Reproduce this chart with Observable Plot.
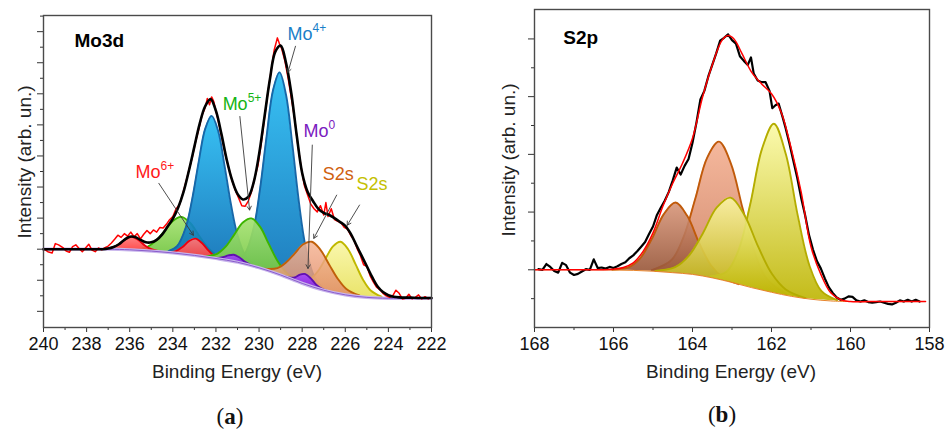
<!DOCTYPE html>
<html><head><meta charset="utf-8">
<script src="https://cdn.jsdelivr.net/npm/d3@7"></script>
<script src="https://cdn.jsdelivr.net/npm/@observablehq/plot@0.6"></script>
<style>
body{margin:0;background:#fff;width:951px;height:436px;overflow:hidden;font-family:"Liberation Sans",Arial,sans-serif;}
#wrap{position:relative;width:951px;height:436px;}
.panel{position:absolute;top:0;}
.ylab{position:absolute;transform:translate(-50%,-50%) rotate(-90deg);white-space:nowrap;font-size:19px;color:#222;}
.xlab{position:absolute;transform:translate(-50%,-50%);white-space:nowrap;font-size:19px;color:#222;}
.tag{position:absolute;transform:translate(-50%,-50%);font-family:"Liberation Serif","DejaVu Serif",serif;font-size:23px;color:#111;}
</style></head><body><div id="wrap"></div>
<script>
// ---------- Panel (a) Mo3d : [energy eV, intensity] ----------
const ticksA = [240,238,236,234,232,230,228,226,224,222];
const minorTicksA = [239,237,235,233,231,229,227,225,223];
const yMajorA = [-2,-1,0,1,2,3,4,5,6,7];
const yMinorA = [-1.5,-0.5,0.5,1.5,2.5,3.5,4.5,5.5,6.5,7.5];

const backgroundA = [[240,0],[237,0],[236,-0.02],[235,-0.06],[234,-0.12],[233,-0.2],[232,-0.3],[231,-0.42],[230,-0.6],[229,-0.83],[228,-1.1],[227,-1.32],[226,-1.47],[225,-1.55],[224,-1.58],[222,-1.58]];

// components: [energy, background, component top]
const mo6PeakA = [[237.2,0,0.01],[236.8,0,0.06],[236.5,-0.01,0.16],[236.2,-0.02,0.32],[235.9,-0.02,0.40],[235.6,-0.04,0.30],[235.3,-0.05,0.12],[235.0,-0.06,0.00],[234.6,-0.08,-0.07]];
const mo6PeakB = [[234.25,-0.11,-0.10],[233.85,-0.13,-0.06],[233.55,-0.16,0.07],[233.25,-0.18,0.26],[232.95,-0.21,0.34],[232.65,-0.24,0.20],[232.35,-0.27,-0.04],[232.05,-0.30,-0.23],[231.65,-0.34,-0.33]];
const mo5PeakA = [[235.7,-0.03,-0.01],[235.2,-0.05,0.07],[234.8,-0.07,0.26],[234.4,-0.10,0.57],[234.0,-0.12,0.91],[233.6,-0.15,1.04],[233.2,-0.18,0.85],[232.8,-0.22,0.45],[232.4,-0.26,0.07],[232.0,-0.30,-0.18],[231.5,-0.36,-0.34]];
const mo5PeakB = [[232.45,-0.26,-0.23],[231.95,-0.31,-0.15],[231.55,-0.35,0.08],[231.15,-0.40,0.47],[230.75,-0.47,0.86],[230.35,-0.54,0.99],[229.95,-0.61,0.72],[229.55,-0.70,0.17],[229.15,-0.80,-0.37],[228.75,-0.90,-0.74],[228.25,-1.03,-1.00]];
const mo4PeakA = [[234.2,-0.11,-0.06],[233.8,-0.14,0.10],[233.4,-0.17,0.70],[233.1,-0.19,1.62],[232.8,-0.22,2.81],[232.5,-0.25,3.87],[232.2,-0.28,4.29],[231.9,-0.31,3.81],[231.6,-0.35,2.68],[231.3,-0.38,1.43],[231.0,-0.42,0.45],[230.6,-0.49,-0.25],[230.2,-0.56,-0.51]];
const mo4PeakB = [[231.05,-0.41,-0.34],[230.65,-0.48,-0.13],[230.25,-0.56,0.68],[229.95,-0.61,1.96],[229.65,-0.68,3.63],[229.35,-0.75,5.12],[229.05,-0.82,5.69],[228.75,-0.90,4.97],[228.45,-0.98,3.33],[228.15,-1.06,1.51],[227.85,-1.13,0.11],[227.45,-1.22,-0.87],[227.05,-1.31,-1.24]];
const mo0PeakA = [[232.17,-0.28,-0.28],[231.92,-0.31,-0.29],[231.67,-0.34,-0.26],[231.42,-0.37,-0.20],[231.17,-0.40,-0.18],[230.92,-0.43,-0.26],[230.67,-0.48,-0.40],[230.42,-0.52,-0.50],[230.17,-0.57,-0.57]];
const mo0PeakB = [[228.85,-0.87,-0.87],[228.6,-0.94,-0.91],[228.35,-1.01,-0.91],[228.1,-1.07,-0.82],[227.85,-1.13,-0.80],[227.6,-1.19,-0.94],[227.35,-1.24,-1.14],[227.1,-1.30,-1.27],[226.85,-1.34,-1.34]];
const s2sOrange = [[229.75,-0.66,-0.63],[229.15,-0.80,-0.61],[228.75,-0.90,-0.43],[228.35,-1.01,-0.14],[227.95,-1.11,0.16],[227.55,-1.20,0.24],[227.15,-1.29,-0.02],[226.75,-1.36,-0.49],[226.35,-1.42,-0.95],[225.95,-1.47,-1.28],[225.35,-1.52,-1.49]];
const s2sYellow = [[228.12,-1.07,-1.03],[227.62,-1.18,-0.95],[227.27,-1.26,-0.71],[226.92,-1.33,-0.31],[226.57,-1.39,0.09],[226.22,-1.44,0.24],[225.87,-1.48,0.00],[225.52,-1.51,-0.49],[225.17,-1.54,-0.99],[224.82,-1.56,-1.33],[224.32,-1.57,-1.53]];

const envelopeA = [[240,0],[239,0],[238,0],[237.5,0],[237.25,0.0],[237.0,0.02],[236.75,0.07],[236.5,0.16],[236.25,0.3],[236.0,0.4],[235.75,0.39],[235.5,0.3],[235.25,0.22],[235.0,0.22],[234.75,0.3],[234.5,0.47],[234.25,0.72],[234.0,0.98],[233.75,1.34],[233.5,1.85],[233.25,2.54],[233.0,3.3],[232.75,4.05],[232.5,4.6],[232.25,4.83],[232.0,4.45],[231.75,3.72],[231.5,2.88],[231.25,2.22],[231.0,1.78],[230.75,1.6],[230.5,1.68],[230.25,2.15],[230.0,3.05],[229.75,4.25],[229.5,5.45],[229.25,6.35],[229.0,6.55],[228.75,6.0],[228.5,5.0],[228.25,3.65],[228.0,2.45],[227.75,1.85],[227.5,1.55],[227.25,1.3],[227.0,1.17],[226.75,1.1],[226.5,1.0],[226.25,0.88],[226.0,0.75],[225.75,0.5],[225.5,0.15],[225.25,-0.2],[225.0,-0.55],[224.75,-0.9],[224.5,-1.2],[224.25,-1.38],[224.0,-1.48],[223.75,-1.53],[223.5,-1.55],[223.0,-1.56],[222.5,-1.57],[222.0,-1.57]];

const measuredA = [[240.0,0.02],[239.8,-0.08],[239.6,-0.12],[239.45,0.18],[239.3,0.14],[239.1,0.05],[238.95,-0.06],[238.8,-0.1],[238.65,0.08],[238.5,0.14],[238.35,0.02],[238.2,-0.08],[238.05,0.04],[237.9,0.16],[237.75,-0.03],[237.6,-0.08],[237.45,0.04],[237.3,-0.02],[237.15,0.05],[237.0,0.1],[236.85,0.2],[236.7,0.32],[236.55,0.45],[236.4,0.38],[236.25,0.5],[236.1,0.42],[235.95,0.55],[235.8,0.4],[235.65,0.5],[235.5,0.33],[235.35,0.48],[235.2,0.6],[235.05,0.5],[234.9,0.62],[234.75,0.55],[234.6,0.7],[234.45,0.68],[234.3,0.8],[234.15,0.95],[234.0,1.05],[233.85,1.3],[233.7,1.42],[233.55,1.75],[233.4,2.15],[233.25,2.55],[233.1,2.95],[232.95,3.45],[232.8,3.85],[232.65,4.3],[232.5,4.55],[232.4,4.85],[232.3,4.65],[232.2,4.9],[232.1,4.75],[232.0,4.45],[231.85,4.0],[231.7,3.5],[231.55,3.0],[231.4,2.6],[231.25,2.2],[231.1,1.9],[230.95,1.65],[230.8,1.4],[230.65,1.38],[230.5,1.55],[230.35,1.85],[230.2,2.3],[230.05,2.7],[229.9,3.4],[229.75,4.2],[229.6,5.0],[229.45,5.7],[229.3,6.4],[229.15,6.8],[229.05,6.6],[228.95,6.45],[228.8,6.05],[228.65,5.5],[228.5,4.85],[228.35,4.2],[228.2,3.35],[228.05,2.65],[227.9,2.05],[227.75,1.75],[227.6,1.45],[227.45,1.3],[227.3,1.2],[227.15,1.4],[227.0,1.1],[226.9,1.5],[226.8,1.05],[226.65,1.3],[226.5,0.95],[226.35,0.9],[226.2,0.85],[226.05,0.7],[225.9,0.65],[225.75,0.45],[225.6,0.3],[225.45,0.02],[225.3,-0.2],[225.15,-0.5],[225.0,-0.55],[224.85,-0.85],[224.7,-1.05],[224.55,-1.22],[224.4,-1.3],[224.25,-1.42],[224.1,-1.5],[223.95,-1.55],[223.8,-1.5],[223.65,-1.32],[223.5,-1.42],[223.35,-1.6],[223.2,-1.58],[223.05,-1.45],[222.9,-1.6],[222.75,-1.55],[222.6,-1.47],[222.45,-1.6],[222.3,-1.53],[222.15,-1.6]];

// ---------- Panel (b) S2p ----------
const ticksB = [168,166,164,162,160,158];
const minorTicksB = [167,165,163,161,159];
const yMajorB = [0,1,2,3,4];
const yMinorB = [-0.5,0.5,1.5,2.5,3.5];

const backgroundB = [[168,0],[166.5,0],[166,-0.005],[165.5,-0.01],[165,-0.025],[164.5,-0.05],[164,-0.08],[163.5,-0.14],[163,-0.22],[162.5,-0.31],[162,-0.39],[161.5,-0.46],[161,-0.51],[160.5,-0.54],[160,-0.55],[158.1,-0.55]];
const brownPeak = [[166.03,0,0],[165.63,-0.01,0.04],[165.33,-0.015,0.195],[165.03,-0.025,0.535],[164.73,-0.04,0.96],[164.43,-0.055,1.165],[164.13,-0.07,0.93],[163.83,-0.10,0.46],[163.53,-0.135,0.075],[163.23,-0.18,-0.13],[162.83,-0.25,-0.25]];
const salmonPeak = [[165.03,-0.025,-0.005],[164.53,-0.05,0.17],[164.23,-0.07,0.56],[163.93,-0.09,1.23],[163.63,-0.12,1.94],[163.33,-0.17,2.22],[163.03,-0.215,1.845],[162.73,-0.26,1.06],[162.43,-0.32,0.31],[162.13,-0.37,-0.15],[161.63,-0.44,-0.42]];
const yellowPeak1 = [[164.94,-0.03,-0.02],[164.44,-0.055,0.045],[164.09,-0.075,0.245],[163.74,-0.11,0.63],[163.39,-0.155,1.075],[163.04,-0.21,1.25],[162.69,-0.275,0.955],[162.34,-0.335,0.405],[161.99,-0.39,-0.07],[161.64,-0.44,-0.34],[161.14,-0.50,-0.49]];
const yellowPeak2 = [[163.54,-0.135,-0.115],[163.14,-0.195,-0.035],[162.84,-0.25,0.33],[162.54,-0.30,1.13],[162.24,-0.355,2.095],[161.94,-0.40,2.53],[161.64,-0.44,2.01],[161.34,-0.475,0.955],[161.04,-0.505,0.075],[160.74,-0.525,-0.365],[160.34,-0.545,-0.525]];
const envelopeB = [[168,0],[167.5,0],[167,0],[166.5,0],[166.25,0.0],[166.0,0.01],[165.75,0.04],[165.5,0.12],[165.25,0.32],[165.0,0.64],[164.75,1.1],[164.5,1.5],[164.25,1.85],[164.0,2.28],[163.75,2.98],[163.5,3.55],[163.25,3.98],[163.1,4.06],[162.95,4.0],[162.75,3.75],[162.5,3.42],[162.25,3.22],[162.0,3.05],[161.75,2.72],[161.5,2.1],[161.25,1.35],[161.0,0.4],[160.75,-0.08],[160.5,-0.4],[160.25,-0.52],[160.0,-0.55],[159.5,-0.55],[159,-0.55],[158.5,-0.55],[158.1,-0.55]];
const measuredB = [[167.9,0.01],[167.8,0.0],[167.7,0.1],[167.6,0.05],[167.5,-0.02],[167.4,-0.05],[167.3,0.12],[167.2,0.08],[167.1,-0.05],[167.0,-0.09],[166.9,-0.07],[166.8,-0.03],[166.7,0.01],[166.6,0.0],[166.5,0.18],[166.4,0.03],[166.3,0.04],[166.2,0.02],[166.1,0.05],[166.0,0.03],[165.9,0.06],[165.8,0.1],[165.7,0.13],[165.6,0.2],[165.5,0.25],[165.4,0.32],[165.3,0.4],[165.2,0.48],[165.1,0.62],[165.0,0.75],[164.9,0.95],[164.8,1.08],[164.7,1.2],[164.6,1.35],[164.5,1.55],[164.4,1.77],[164.3,1.65],[164.2,1.8],[164.1,1.92],[164.0,2.2],[163.9,2.55],[163.8,2.95],[163.7,3.1],[163.6,3.35],[163.5,3.55],[163.4,3.75],[163.3,3.97],[163.2,4.02],[163.1,4.08],[163.0,3.98],[162.9,3.92],[162.8,3.7],[162.7,3.62],[162.6,3.55],[162.52,3.68],[162.45,3.4],[162.35,3.28],[162.25,3.25],[162.15,3.25],[162.05,3.1],[161.98,2.8],[161.9,2.85],[161.82,2.88],[161.72,2.65],[161.64,2.45],[161.55,2.2],[161.45,1.9],[161.35,1.6],[161.25,1.25],[161.15,0.95],[161.05,0.6],[160.95,0.35],[160.85,0.15],[160.75,0.02],[160.65,-0.15],[160.55,-0.3],[160.45,-0.4],[160.35,-0.48],[160.25,-0.52],[160.15,-0.5],[160.05,-0.46],[159.95,-0.47],[159.85,-0.53],[159.75,-0.55],[159.65,-0.53],[159.55,-0.56],[159.45,-0.57],[159.35,-0.56],[159.25,-0.55],[159.15,-0.57],[159.05,-0.59],[158.95,-0.6],[158.85,-0.57],[158.75,-0.53],[158.65,-0.55],[158.55,-0.52],[158.45,-0.55],[158.35,-0.52],[158.25,-0.55]];

// ---------- annotations ----------
const labelNamesA = ["Mo","Mo","Mo","Mo","S2s","S2s"];
const labelSupsA = ["6+","5+","4+","0","",""];
const labelAtA = [[235.73,2.29],[231.69,4.48],[228.68,6.74],[227.94,3.61],[227.05,2.23],[225.48,1.9]];
const labelColorsA = ["#ff1a1a","#14b414","#1a7fc8","#7a20c0","#d0600e","#c4c000"];
const arrowsA = [[234.65,2.12,233.05,0.45],[230.89,4.27,230.44,1.26],[228.31,6.53,228.66,5.69],[227.53,3.35,227.73,-0.62],[226.40,1.74,227.46,0.35],[225.34,1.42,225.91,0.77]];

const FONT = '"Liberation Sans", Arial, sans-serif';
const P = d => ({e:d[0], lo:d[1], hi:d[2]});
const XY = d => ({e:d[0], y:d[1]});

function peak(data, fill, stroke, op=0.92){
  const rows = data.map(P);
  return [
    Plot.areaY(rows, {x:"e", y1:"lo", y2:"hi", fill, fillOpacity:op, curve:"catmull-rom"}),
    Plot.line(rows, {x:"e", y:"hi", stroke, strokeWidth:1.9, curve:"catmull-rom"})
  ];
}
function axes(ticks, minor, yMaj, yMin){
  return [
    Plot.axisX({ticks, tickSize:5, tickPadding:5, fontSize:18, label:null, stroke:"#333", fill:"#111"}),
    Plot.axisX({ticks:minor, tickSize:3, tickFormat:()=>"", label:null, stroke:"#333"}),
    Plot.axisY({ticks:yMaj, tickSize:6, tickFormat:()=>"", label:null, stroke:"#333"}),
    Plot.axisY({ticks:yMin, tickSize:3, tickFormat:()=>"", label:null, stroke:"#333"}),
    Plot.frame({stroke:"#4a4a4a", strokeWidth:1.4})
  ];
}
function addGradients(svg, grads){
  const ns = "http://www.w3.org/2000/svg";
  const defs = document.createElementNS(ns, "defs");
  for (const [id, c0, c1] of grads){
    const g = document.createElementNS(ns, "linearGradient");
    g.setAttribute("id", id); g.setAttribute("x1","0"); g.setAttribute("y1","0"); g.setAttribute("x2","0"); g.setAttribute("y2","1");
    [[0,c0],[1,c1]].forEach(([o,c])=>{const s=document.createElementNS(ns,"stop"); s.setAttribute("offset",o); s.setAttribute("stop-color",c); g.appendChild(s);});
    defs.appendChild(g);
  }
  svg.insertBefore(defs, svg.firstChild);
}

const wrap = document.getElementById("wrap");

// ---------- Panel A ----------
const labA = labelNamesA.map((t,i)=>({t, s:labelSupsA[i], e:labelAtA[i][0], y:labelAtA[i][1], c:labelColorsA[i]}));
const svgA = Plot.plot({
  width:470, height:390, marginLeft:43, marginRight:39, marginTop:15, marginBottom:63,
  x:{domain:[240,222]}, y:{domain:[-2.52,7.52]}, color:{type:"identity"},
  style:{fontFamily:FONT, fontSize:"18px", color:"#222", background:"transparent", overflow:"visible"},
  marks:[
    ...peak(mo5PeakA, "url(#gGreen)", "#3cb400"),
    ...peak(mo4PeakA, "url(#gBlue)", "#1767a8"),
    ...peak(mo6PeakA, "url(#gRed)", "#e80010"),
    ...peak(mo6PeakB, "url(#gRed)", "#e80010"),
    ...peak(mo4PeakB, "url(#gBlue)", "#1767a8"),
    ...peak(mo5PeakB, "url(#gGreen)", "#3cb400"),
    ...peak(s2sYellow, "url(#gYellow)", "#c0b800", 0.85),
    ...peak(s2sOrange, "url(#gOrange)", "#c0600a", 0.85),
    ...peak(mo0PeakA, "url(#gPurple)", "#6010b0"),
    ...peak(mo0PeakB, "url(#gPurple)", "#6010b0"),
    Plot.line(backgroundA.map(XY), {x:"e", y:"y", stroke:"#c9b6ec", strokeWidth:3.2, curve:"catmull-rom"}),
    Plot.line(backgroundA.map(XY), {x:"e", y:"y", stroke:"#8a5ccc", strokeWidth:1, curve:"catmull-rom"}),
    Plot.line(measuredA.map(XY), {x:"e", y:"y", stroke:"#ff0000", strokeWidth:1.5}),
    Plot.line(envelopeA.map(XY), {x:"e", y:"y", stroke:"#000", strokeWidth:2.6, curve:"catmull-rom"}),
    Plot.arrow(arrowsA, {x1:d=>d[0], y1:d=>d[1], x2:d=>d[2], y2:d=>d[3], stroke:"#3a3a3a", strokeWidth:0.9, headLength:7}),
    Plot.text(labA, {x:"e", y:"y", text:"t", fill:"c", textAnchor:"start", lineAnchor:"bottom", fontSize:18}),
    Plot.text(labA.filter(d=>d.s), {x:"e", y:"y", text:"s", fill:"c", textAnchor:"start", lineAnchor:"bottom", fontSize:12, dx:25, dy:-8}),
    Plot.text(["Mo3d"], {x:238.56, y:6.52, text:d=>d, textAnchor:"start", lineAnchor:"bottom", fontSize:19, fontWeight:"bold", fill:"#000"}),
    ...axes(ticksA, minorTicksA, yMajorA, yMinorA)
  ]
});
addGradients(svgA, [["gBlue","#27bcf3","#0b6fb6"],["gGreen","#a6e272","#6cc23a"],["gRed","#ff7a7a","#ff3a3a"],["gPurple","#a848ff","#7a1ee0"],["gOrange","#f5b595","#e08a66"],["gYellow","#f9f6a0","#e6df50"]]);
svgA.classList.add("panel"); svgA.style.left = "0px";
wrap.appendChild(svgA);

// ---------- Panel B ----------
const svgB = Plot.plot({
  width:471, height:390, marginLeft:54, marginRight:22, marginTop:9, marginBottom:63,
  x:{domain:[168,158]}, y:{domain:[-1.0,4.51]},
  style:{fontFamily:FONT, fontSize:"18px", color:"#222", background:"transparent", overflow:"visible"},
  marks:[
    ...peak(salmonPeak, "url(#gSalmon)", "#c05a0a", 0.9),
    ...peak(brownPeak, "url(#gBrown)", "#c05a0a", 0.9),
    ...peak(yellowPeak2, "url(#gYel2)", "#b4ac00", 0.9),
    ...peak(yellowPeak1, "url(#gYel2)", "#b4ac00", 0.85),
    Plot.line(backgroundB.map(XY), {x:"e", y:"y", stroke:"#e8842a", strokeWidth:1, curve:"catmull-rom"}),
    Plot.line(measuredB.map(XY), {x:"e", y:"y", stroke:"#000", strokeWidth:2.2}),
    Plot.line(envelopeB.map(XY), {x:"e", y:"y", stroke:"#ff0000", strokeWidth:1.5, curve:"catmull-rom"}),
    Plot.text(["S2p"], {x:167.27, y:3.92, text:d=>d, textAnchor:"start", lineAnchor:"bottom", fontSize:19, fontWeight:"bold", fill:"#000"}),
    ...axes(ticksB, minorTicksB, yMajorB, yMinorB)
  ]
});
addGradients(svgB, [["gBrown","#d8967a","#8c4a2c"],["gSalmon","#f4b092","#c97a5a"],["gYel2","#fbfaa6","#bdb400"]]);
svgB.classList.add("panel"); svgB.style.left = "480px";
wrap.appendChild(svgB);

// ---------- HTML labels ----------
function lab(cls, text, x, y, extra=""){
  const d = document.createElement("div"); d.className = cls; d.textContent = text;
  d.style.left = x+"px"; d.style.top = y+"px"; if (extra) d.style.cssText += extra; wrap.appendChild(d);
}
lab("ylab","Intensity (arb. un.)",25,162);
lab("ylab","Intensity (arb. un.)",509,160);
lab("xlab","Binding Energy (eV)",237,372);
lab("xlab","Binding Energy (eV)",731,372);
const ta = document.createElement("div"); ta.className="tag"; ta.innerHTML="(<b>a</b>)"; ta.style.left="230px"; ta.style.top="417px"; wrap.appendChild(ta);
const tb = document.createElement("div"); tb.className="tag"; tb.innerHTML="(<b>b</b>)"; tb.style.left="722px"; tb.style.top="415px"; wrap.appendChild(tb);
</script></body></html>
